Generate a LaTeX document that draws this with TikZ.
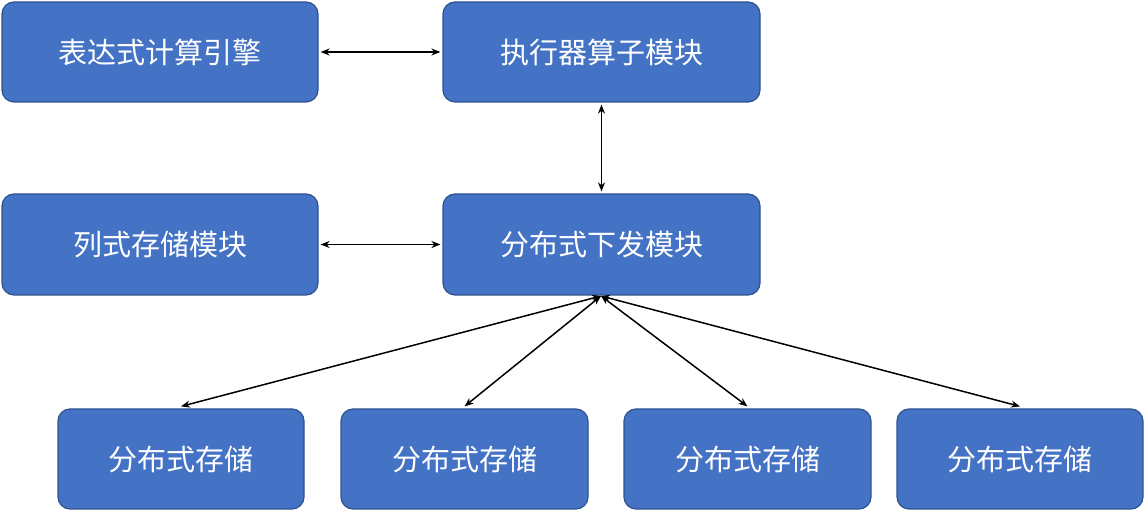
\documentclass[tikz,border=0pt]{standalone}
\usepackage{fontspec}
\newfontfamily\cjk{Noto Sans CJK SC}
\usetikzlibrary{arrows.meta}
\definecolor{boxfill}{HTML}{4472C4}
\definecolor{boxline}{HTML}{2F528F}
\begin{document}
\begin{tikzpicture}[x=1pt,y=1pt,
  blk/.style={draw=boxline,line width=1.2pt,fill=boxfill,rounded corners=12pt,text=white,font=\cjk\fontsize{29}{34}\selectfont,inner sep=0pt},
  link/.style={{Stealth[length=9pt,width=7pt]}-{Stealth[length=9pt,width=7pt]},line width=1.5pt}]
\useasboundingbox (0,0) rectangle (1145,513);
\node[blk,minimum width=316pt,minimum height=100pt] (expr) at (160,461) {表达式计算引擎};
\node[blk,minimum width=317pt,minimum height=100pt] (exec) at (601.5,461) {执行器算子模块};
\node[blk,minimum width=316pt,minimum height=101pt] (col) at (160,268.5) {列式存储模块};
\node[blk,minimum width=317pt,minimum height=101pt] (dist) at (601.5,268.5) {分布式下发模块};
\node[blk,minimum width=246pt,minimum height=100pt] (s1) at (181,54) {分布式存储};
\node[blk,minimum width=247pt,minimum height=100pt] (s2) at (464.5,54) {分布式存储};
\node[blk,minimum width=247pt,minimum height=100pt] (s3) at (747.5,54) {分布式存储};
\node[blk,minimum width=246pt,minimum height=100pt] (s4) at (1020,54) {分布式存储};
\coordinate (hub) at (601,217);
\draw[link] ([xshift=2pt]expr.east) -- ([xshift=-2pt]exec.west);
\draw[link] ([xshift=2pt]col.east) -- ([xshift=-2pt]dist.west);
\draw[link] ([yshift=-2pt]exec.south) -- ([yshift=2pt]dist.north);
\draw[link] (hub) -- ([yshift=2pt]s1.north);
\draw[link] (hub) -- ([yshift=2pt]s2.north);
\draw[link] (hub) -- ([yshift=2pt]s3.north);
\draw[link] (hub) -- ([yshift=2pt]s4.north);
\end{tikzpicture}
\end{document}
